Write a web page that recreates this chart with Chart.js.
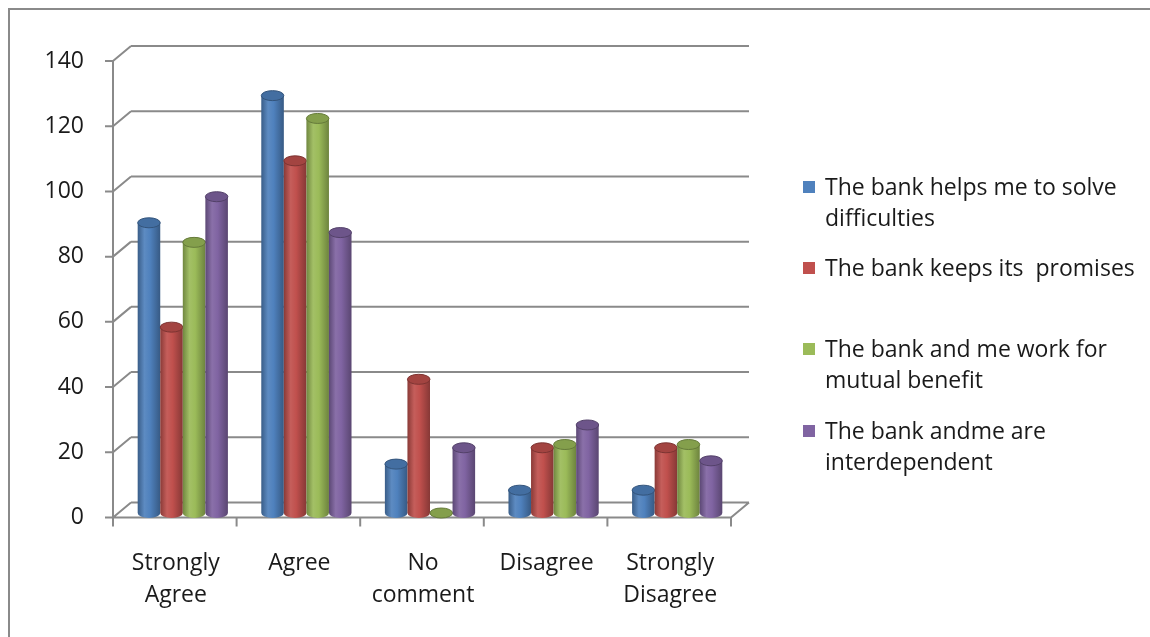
<!DOCTYPE html>
<html>
<head>
<meta charset="utf-8">
<script src="https://cdn.jsdelivr.net/npm/chart.js@4"></script>
<style>
  html, body { margin: 0; padding: 0; background: #fff; }
  #wrap { position: relative; width: 1150px; height: 637px; overflow: hidden; }
  #frame { position: absolute; left: 8px; top: 8px; width: 1160px; height: 650px; border: 2px solid #8a8a8a; box-sizing: border-box; }
  canvas { position: absolute; left: 0; top: 0; }
  .leg { position: absolute; left: 825px; font-family: "Open Sans", sans-serif; font-size: 23px; color: #1a1a1a; line-height: 31px; white-space: nowrap; }
  .sw { position: absolute; left: -22px; top: 10px; width: 12px; height: 12px; }
</style>
</head>
<body>
<div id="wrap">
  <div id="frame"></div>
  <canvas id="c" width="1150" height="637"></canvas>
  <div id="legend"></div>
</div>
<script>
const categories = [['Strongly', 'Agree'], 'Agree', ['No', 'comment'], 'Disagree', ['Strongly', 'Disagree']];
const seriesNames = [
  'The bank helps me to solve difficulties',
  'The bank keeps its  promises',
  'The bank and me work for mutual benefit',
  'The bank andme are interdependent'
];
const helpsSolve = [89, 128, 15, 7, 7];
const keepsPromises = [57, 108, 41, 20, 20];
const mutualBenefit = [83, 121, 0, 21, 21];
const interdependent = [97, 86, 20, 27, 16];
const yTicks = [0, 20, 40, 60, 80, 100, 120, 140];

const colors = ['#4f81bd', '#c0504d', '#9bbb59', '#8064a2'];
const allData = [helpsSolve, keepsPromises, mutualBenefit, interdependent];

// legend (wrapped like the original)
const legendLines = [
  ['The bank helps me to solve', 'difficulties'],
  ['The bank keeps its &nbsp;promises'],
  ['The bank and me work for', 'mutual benefit'],
  ['The bank andme are', 'interdependent']
];
const legendTops = [171, 252, 333, 415];
const legEl = document.getElementById('legend');
legendLines.forEach((lines, i) => {
  const d = document.createElement('div');
  d.className = 'leg';
  d.style.top = legendTops[i] + 'px';
  d.innerHTML = '<span class="sw" style="background:' + colors[i] + '"></span>' + lines.join('<br>');
  legEl.appendChild(d);
});

function shade(hex, f) {
  const n = parseInt(hex.slice(1), 16);
  let r = (n >> 16) & 255, g = (n >> 8) & 255, b = n & 255;
  if (f < 1) { r *= f; g *= f; b *= f; }
  else { r += (255 - r) * (f - 1); g += (255 - g) * (f - 1); b += (255 - b) * (f - 1); }
  return 'rgb(' + Math.round(r) + ',' + Math.round(g) + ',' + Math.round(b) + ')';
}

// depth offsets from the bar plane
const FRONT = { x: -8, y: 4.5 };
const BACK = { x: 10, y: -10.5 };
const GRID = '#8a8a8a';

const walls = {
  id: 'walls',
  beforeDatasetsDraw(chart) {
    const { ctx, chartArea: a, scales: { x, y } } = chart;
    ctx.save();
    ctx.strokeStyle = GRID;
    ctx.lineWidth = 2;
    ctx.beginPath();
    yTicks.forEach(v => {
      const py = y.getPixelForValue(v);
      // back wall line
      ctx.moveTo(a.left + BACK.x, py + BACK.y);
      ctx.lineTo(a.right + BACK.x, py + BACK.y);
      // side diagonal
      ctx.moveTo(a.left + FRONT.x, py + FRONT.y);
      ctx.lineTo(a.left + BACK.x, py + BACK.y);
      // tick mark
      ctx.moveTo(a.left + FRONT.x - 8, py + FRONT.y);
      ctx.lineTo(a.left + FRONT.x, py + FRONT.y);
    });
    // front vertical axis
    ctx.moveTo(a.left + FRONT.x, y.getPixelForValue(140) + FRONT.y);
    ctx.lineTo(a.left + FRONT.x, a.bottom + FRONT.y);
    // floor front edge + right diagonal
    ctx.moveTo(a.left + FRONT.x, a.bottom + FRONT.y);
    ctx.lineTo(a.right + FRONT.x, a.bottom + FRONT.y);
    ctx.lineTo(a.right + BACK.x, a.bottom + BACK.y);
    // category tick marks
    const step = (a.right - a.left) / categories.length;
    for (let i = 0; i <= categories.length; i++) {
      const px = a.left + FRONT.x + i * step;
      ctx.moveTo(px, a.bottom + FRONT.y);
      ctx.lineTo(px, a.bottom + FRONT.y + 9);
    }
    ctx.stroke();
    ctx.restore();
  }
};

const cylinders = {
  id: 'cylinders',
  afterDatasetsDraw(chart) {
    const ctx = chart.ctx;
    const n = categories.length;
    for (let i = 0; i < n; i++) {
      chart.data.datasets.forEach((ds, di) => {
        const el = chart.getDatasetMeta(di).data[i];
        const c = colors[di];
        const w = el.width, l = el.x - w / 2, r = el.x + w / 2;
        const top = el.y, base = el.base;
        const ry = 5;
        const g = ctx.createLinearGradient(l, 0, r, 0);
        g.addColorStop(0, shade(c, 0.72));
        g.addColorStop(0.3, shade(c, 1.08));
        g.addColorStop(0.55, c);
        g.addColorStop(1, shade(c, 0.7));
        ctx.save();
        ctx.fillStyle = g;
        ctx.beginPath();
        ctx.moveTo(l, top);
        ctx.lineTo(l, base);
        ctx.ellipse(el.x, base, w / 2, ry, 0, Math.PI, 0, true);
        ctx.lineTo(r, top);
        ctx.closePath();
        ctx.fill();
        // top cap
        ctx.beginPath();
        ctx.ellipse(el.x, top, w / 2, ry, 0, 0, Math.PI * 2);
        ctx.fillStyle = shade(c, 0.85);
        ctx.fill();
        ctx.lineWidth = 1;
        ctx.strokeStyle = shade(c, 0.65);
        ctx.stroke();
        ctx.restore();
      });
    }
  }
};

new Chart(document.getElementById('c'), {
  type: 'bar',
  data: {
    labels: categories,
    datasets: seriesNames.map((name, i) => ({
      label: name,
      data: allData[i],
      backgroundColor: 'rgba(0,0,0,0)',
      borderWidth: 0,
      barPercentage: 1,
      categoryPercentage: 0.73
    }))
  },
  options: {
    responsive: false,
    animation: false,
    layout: { padding: { top: 56.5, right: 411, left: 0, bottom: 0 } },
    plugins: { legend: { display: false }, tooltip: { enabled: false } },
    scales: {
      x: {
        grid: { display: false },
        border: { display: false },
        ticks: {
          color: '#1a1a1a',
          font: { family: 'Open Sans', size: 23, lineHeight: 1.4 },
          padding: 26,
          labelOffset: -7,
          maxRotation: 0,
          autoSkip: false
        },
        afterFit: s => { s.height = 637 - 513; }
      },
      y: {
        min: 0,
        max: 140,
        grid: { display: false },
        border: { display: false },
        ticks: {
          stepSize: 20,
          color: '#1a1a1a',
          font: { family: 'Open Sans', size: 23 },
          padding: 29,
          labelOffset: 4.5
        },
        afterFit: s => { s.width = 121; }
      }
    }
  },
  plugins: [walls, cylinders]
});
</script>
</body>
</html>
